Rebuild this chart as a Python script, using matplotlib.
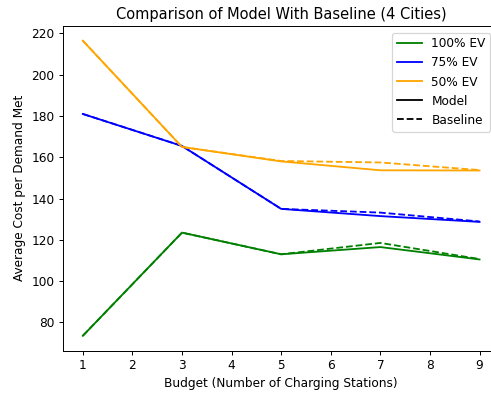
import matplotlib
matplotlib.use("Agg")
import matplotlib.pyplot as plt
from matplotlib.lines import Line2D

budget = [1, 3, 5, 7, 9]
model_100 = [73.5, 123.5, 113.0, 116.5, 110.5]
base_100 = [73.5, 123.5, 113.0, 118.5, 110.7]
model_75 = [181.0, 165.5, 135.0, 131.5, 128.7]
base_75 = [181.0, 165.5, 135.0, 133.2, 128.9]
model_50 = [216.5, 165.0, 158.0, 153.7, 153.6]
base_50 = [216.5, 165.0, 158.2, 157.5, 153.8]

s = 0.877
dpi = 100 * s
fig = plt.figure(figsize=(492 / dpi, 393 / dpi), dpi=dpi)
ax = fig.add_axes([0.128, 0.108, 0.887, 0.826])

series = [("100% EV", "green", model_100, base_100),
          ("75% EV", "blue", model_75, base_75),
          ("50% EV", "orange", model_50, base_50)]
for name, c, m, b in series:
    ax.plot(budget, m, color=c, linestyle="-")
    ax.plot(budget, b, color=c, linestyle="--")

ax.set_xticks(range(1, 10))
ax.set_title("Comparison of Model With Baseline (4 Cities)")
ax.set_xlabel("Budget (Number of Charging Stations)")
ax.set_ylabel("Average Cost per Demand Met")

handles = [Line2D([], [], color=c) for _, c, _, _ in series]
handles += [Line2D([], [], color="black", linestyle="-"),
            Line2D([], [], color="black", linestyle="--")]
labels = [s_[0] for s_ in series] + ["Model", "Baseline"]
ax.legend(handles, labels, loc="upper right", bbox_to_anchor=(490.5 / 492, 1 - 32.5 / 393),
          bbox_transform=fig.transFigure, borderaxespad=0)

fig.savefig("out.png", dpi=dpi)
